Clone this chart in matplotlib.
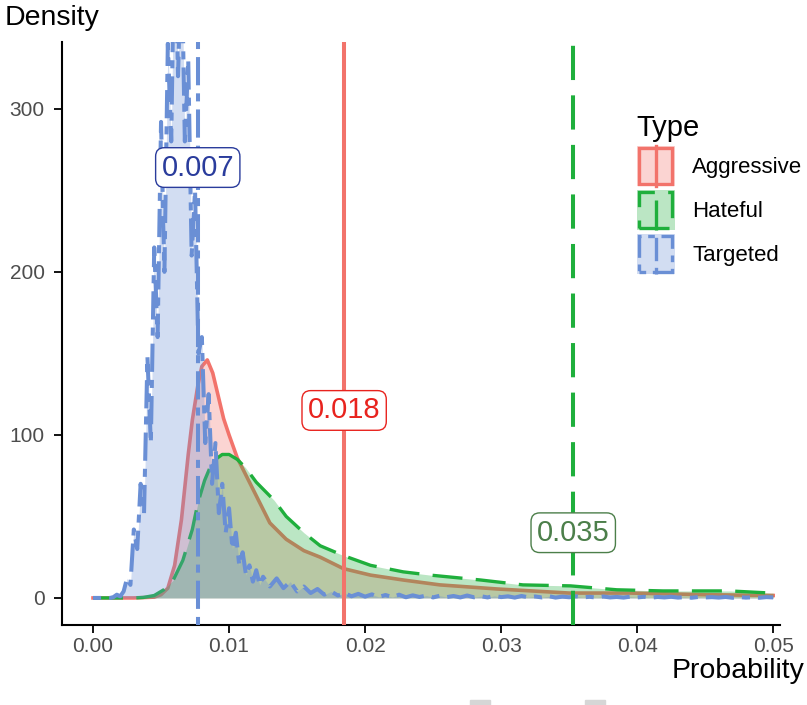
import numpy as np
import matplotlib
matplotlib.use("Agg")
import matplotlib.pyplot as plt
from matplotlib.patches import Rectangle
from matplotlib.lines import Line2D

plt.rcParams['font.family'] = ['Liberation Sans', 'DejaVu Sans']

# ---- data ----
types = ['Aggressive', 'Hateful', 'Targeted']
colors = ['#F2736B', '#1FAF3C', '#6A8FD5']
label_colors = ['#E8231E', '#4C7F4A', '#2A3C9C']

aggr_x = [0.0, 0.003, 0.0045, 0.005, 0.0055, 0.006, 0.0065, 0.007, 0.0073, 0.0077,
          0.008, 0.0084, 0.0088, 0.0092, 0.0096, 0.010, 0.0106, 0.0118, 0.013, 0.0142,
          0.0155, 0.0167, 0.0184, 0.0204, 0.0228, 0.0255, 0.0297, 0.035, 0.0395, 0.045, 0.05]
aggr_y = [0, 0, 0.5, 2, 6, 20, 48, 88, 109, 130,
          142, 146, 138, 124, 110, 100, 86, 66, 46, 36,
          29, 25, 18, 14, 11, 8, 5.5, 3, 3, 2, 1.5]

hate_x = [0.0, 0.003, 0.0037, 0.0045, 0.0052, 0.0059, 0.0066, 0.0073, 0.0077, 0.0082,
          0.0086, 0.009, 0.0095, 0.010, 0.0106, 0.0112, 0.012, 0.0133, 0.0142, 0.0155,
          0.0167, 0.0184, 0.0204, 0.0228, 0.0248, 0.0285, 0.0316, 0.0351, 0.0385, 0.0419,
          0.0468, 0.0498, 0.05]
hate_y = [0, 0, 0.3, 1.5, 5, 11, 23, 42, 58, 72,
          80, 85, 88, 88, 85, 80, 71, 60, 50, 40,
          32, 26, 20, 16, 14, 11, 8, 7.4, 5, 4.3,
          4.3, 3, 3]

targ_peak_y = [0, 0, 0.5, 2, 1, 4, 12, 8, 42, 30,
               70, 52, 148, 95, 215, 160, 292, 200, 340, 280,
               420, 320, 400, 280, 330, 210, 250, 150, 160, 95,
               125, 70, 95, 52, 70, 40, 55, 30, 40, 20,
               28, 14, 20, 10, 17, 8, 13]
targ_tail_y = [7, 12, 6, 10, 4, 7, 3, 5.5, 2, 4,
               1.5, 3, 1, 2.5, 0.8, 2.2, 0.6, 1.8, 0.5, 2,
               0.4, 1.6, 0.6, 1.5, 0.3, 1.4, 0.5, 1.2, 0.3, 1.5,
               0.4, 1.1, 0.3, 1.3, 0.5, 1.0, 0.2, 1.2, 0.4, 0.9,
               0.3, 1.1, 0.2, 0.8, 0.4, 1.0, 0.3, 0.7, 0.2, 0.9,
               0.3, 0.6, 0.2, 0.8, 0.3, 0.7, 0.1, 0.6, 0.3, 0.7,
               0.2, 0.5, 0.1, 0.6, 0.3, 0.5, 0.2, 0.6, 0.1, 0.5,
               0.2, 0.4, 0.1, 0.5, 0.3]
targ_x = np.concatenate([[0.0], np.linspace(0.001, 0.0125, 47), np.linspace(0.013, 0.05, 75)])
targ_y = np.concatenate([[0.0], targ_peak_y, targ_tail_y])

means = [0.01846, 0.0353, 0.0077]
mean_labels = ['0.018', '0.035', '0.007']
label_y = [115, 40, 264]

x_ticks = [0.00, 0.01, 0.02, 0.03, 0.04, 0.05]
x_ticklabels = ['0.00', '0.01', '0.02', '0.03', '0.04', '0.05']
y_ticks = [0, 100, 200, 300]

curve_ls = ['-', (0, (9, 4)), (0, (2, 2, 7, 2))]
curve_lw = [2.6, 2.4, 2.9]
vline_ls = ['-', (0, (8.5, 3.8)), (0, (2, 2, 7, 2))]

# ---- figure ----
fig = plt.figure(figsize=(8.07, 7.05), dpi=100)
ax = fig.add_axes([62 / 807, 1 - 625 / 705, (780 - 62) / 807, (625 - 42) / 705])

curves = [(aggr_x, aggr_y), (hate_x, hate_y), (targ_x, targ_y)]
for i, (cx, cy) in enumerate(curves):
    ax.fill_between(cx, cy, 0, color=colors[i], alpha=0.3, lw=0, zorder=1 + 2 * i)
    ax.plot(cx, cy, color=colors[i], lw=curve_lw[i], ls=curve_ls[i], zorder=2 + 2 * i)

for i in range(3):
    ax.axvline(means[i], color=colors[i], lw=2.9, ls=vline_ls[i], zorder=7)
    ax.text(means[i], label_y[i], mean_labels[i], color=label_colors[i], fontsize=21,
            ha='center', va='center', zorder=8,
            bbox=dict(boxstyle='round,pad=0.2,rounding_size=0.3', fc='white',
                      ec=label_colors[i], lw=1.0))

ax.set_xlim(-0.00228, 0.0505)
ax.set_ylim(-16.6, 341)
ax.set_xticks(x_ticks)
ax.set_xticklabels(x_ticklabels)
ax.set_yticks(y_ticks)
ax.tick_params(labelsize=15, labelcolor='#4D4D4D', length=5.5, width=1.3,
               color='black')
ax.tick_params(axis='y', pad=7)
ax.tick_params(axis='x', pad=3)
for s in ['top', 'right']:
    ax.spines[s].set_visible(False)
for s in ['left', 'bottom']:
    ax.spines[s].set_linewidth(1.5)

fig.text(5 / 807, 1 - 18 / 705, 'Density', fontsize=20.5, ha='left', va='center')
fig.text(805 / 807, 1 - 671 / 705, 'Probability', fontsize=20.5, ha='right', va='center')


# ---- legend ----
class Key:
    def __init__(self, color, ls):
        self.color = color
        self.ls = ls


class KeyHandler:
    def legend_artist(self, legend, orig_handle, fontsize, handlebox):
        x0, y0 = -handlebox.xdescent, -handlebox.ydescent
        w, h = handlebox.width, handlebox.height
        tr = handlebox.get_transform()
        fill = Rectangle((x0, y0), w, h, facecolor=orig_handle.color, alpha=0.3,
                         lw=0, transform=tr)
        edge = Rectangle((x0 + 1.5, y0 + 1.5), w - 3, h - 3, facecolor='none',
                         edgecolor=orig_handle.color, lw=2.4, ls=orig_handle.ls,
                         transform=tr)
        vl = Line2D([x0 + w / 2, x0 + w / 2], [y0, y0 + h], color=orig_handle.color,
                    lw=2.4, ls=orig_handle.ls, transform=tr)
        handlebox.add_artist(fill)
        handlebox.add_artist(edge)
        handlebox.add_artist(vl)
        return fill


keys = [Key(colors[i], curve_ls[i]) for i in range(3)]
leg = ax.legend(keys, types, handler_map={Key: KeyHandler()}, title='Type',
                loc='upper left', bbox_to_anchor=(0.794, 0.884),
                frameon=False, fontsize=16, title_fontsize=21,
                handlelength=1.71, handleheight=2.39, labelspacing=0.18,
                handletextpad=0.8, borderpad=0.2, borderaxespad=0,
                alignment='left')

# cropping leftovers at the bottom edge of the picture
fig.patches.append(Rectangle((470 / 807, 0), 20 / 807, 5 / 705, color='#D6D6D6',
                             transform=fig.transFigure, figure=fig))
fig.patches.append(Rectangle((585 / 807, 0), 20 / 807, 5 / 705, color='#D6D6D6',
                             transform=fig.transFigure, figure=fig))

fig.savefig('out.png', dpi=100)
